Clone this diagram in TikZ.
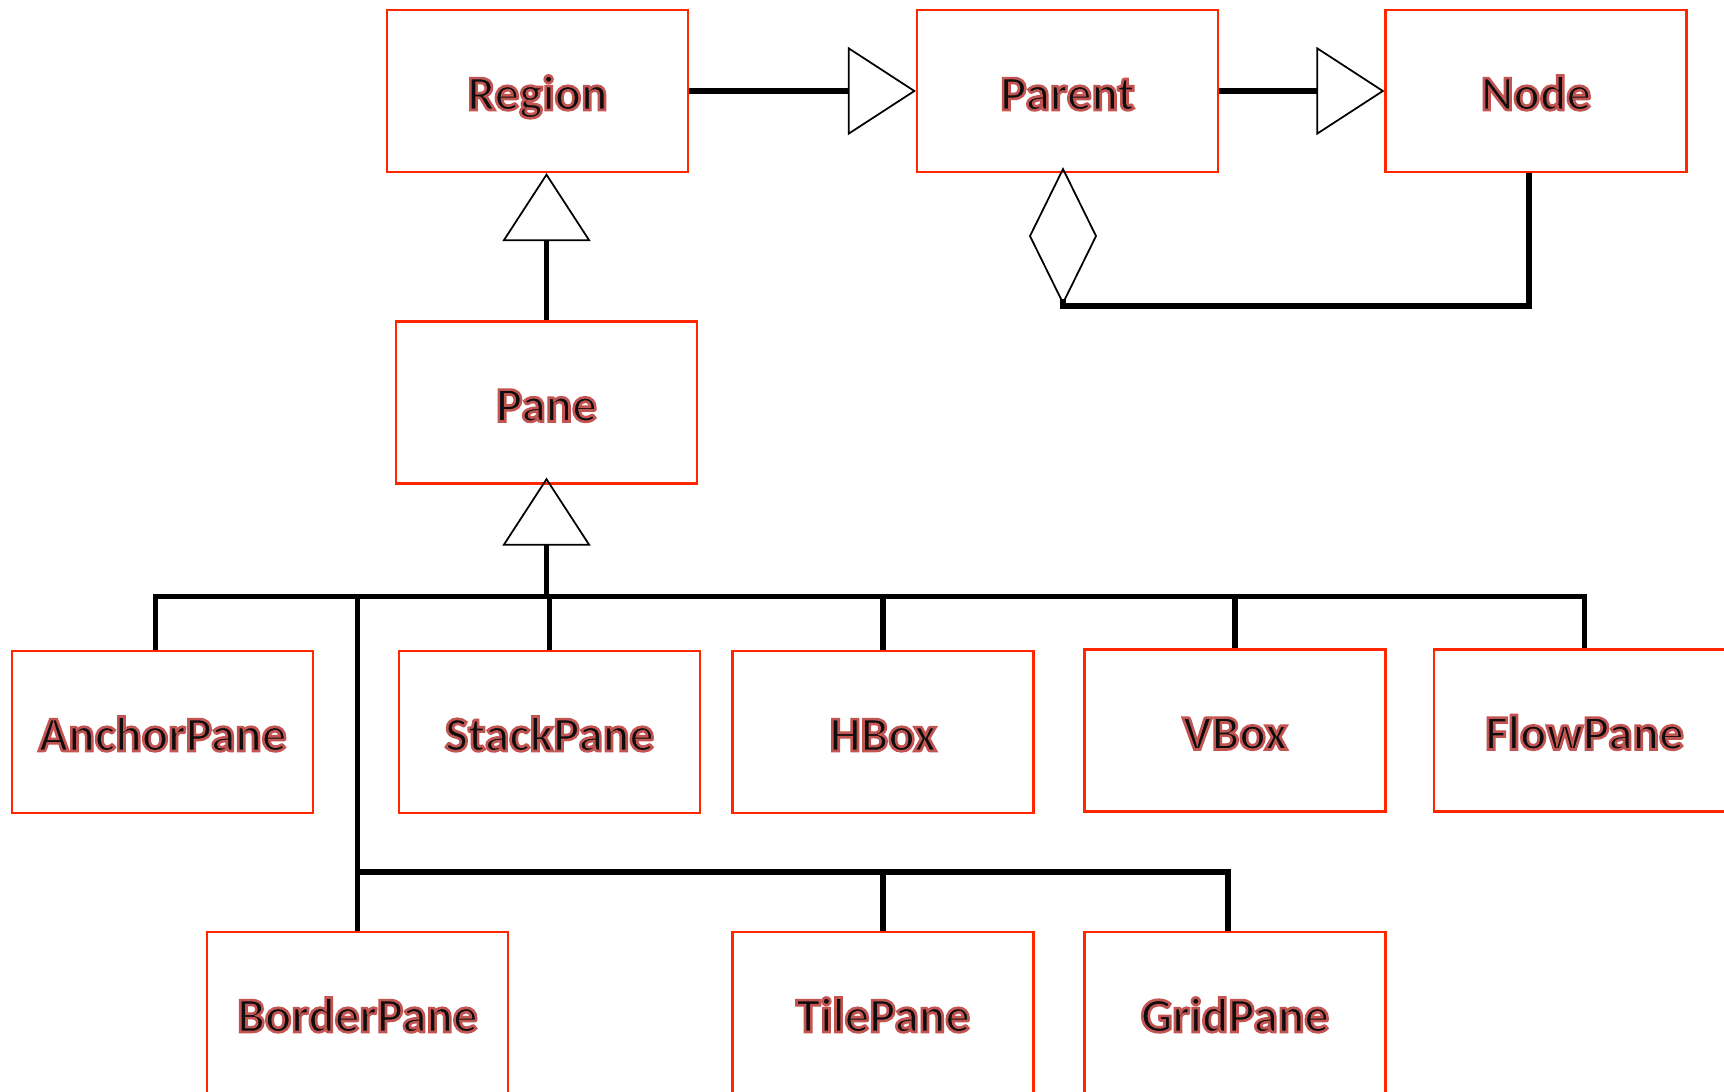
\documentclass[tikz,border=0pt]{standalone}
\usepackage{fontspec}
\setmainfont{Carlito}
\usepackage{xcolor}
\usetikzlibrary{arrows.meta}
\definecolor{boxred}{RGB}{255,38,0}
% outlined class names: black fill, red-brown stroke
\newcommand{\classname}[1]{\bfseries\special{pdf:literal direct 2 Tr 0.75 w 0.76 0.33 0.32 RG 0.05 0.05 0.05 rg}#1\special{pdf:literal direct 0 Tr}}
\begin{document}
\begin{tikzpicture}[font=\fontsize{14}{16}\selectfont,
  classbox/.style={rectangle,draw=boxred,fill=white,line width=0.6pt,minimum width=3.01cm,minimum height=1.62cm,inner sep=0pt,text height=0.5cm,text depth=0.12cm,align=center},
  link/.style={draw=black,line width=1.6pt},
  gen/.style={link,-{Triangle[open,length=0.68cm,width=0.88cm,line width=0.5pt]}},
  agg/.style={link,{Diamond[open,length=1.38cm,width=0.68cm,line width=0.5pt]}-}]
\useasboundingbox (0,0) rectangle (17.24,-10.92);
% top row
\node[classbox] (Region) at (5.375,-0.91) {\classname{Region}};
\node[classbox] (Parent) at (10.675,-0.91) {\classname{Parent}};
\node[classbox] (Node) at (15.36,-0.91) {\classname{Node}};
\node[classbox] (Pane) at (5.465,-4.025) {\classname{Pane}};
% subclasses of Pane
\node[classbox] (AnchorPane) at (1.625,-7.32) {\classname{AnchorPane}};
\node[classbox] (StackPane) at (5.495,-7.32) {\classname{StackPane}};
\node[classbox] (HBox) at (8.83,-7.32) {\classname{HBox}};
\node[classbox] (VBox) at (12.35,-7.305) {\classname{VBox}};
\node[classbox] (FlowPane) at (15.845,-7.305) {\classname{FlowPane}};
\node[classbox] (BorderPane) at (3.575,-10.13) {\classname{BorderPane}};
\node[classbox] (TilePane) at (8.83,-10.13) {\classname{TilePane}};
\node[classbox] (GridPane) at (12.35,-10.13) {\classname{GridPane}};
% inheritance at the top
\draw[gen] (Region) -- (Parent);
\draw[gen] (Parent) -- (Node);
\draw[gen] (Pane.north) -- (Pane.north |- Region.south);
% Parent holds Node children
\draw[agg] ([xshift=-0.045cm,yshift=0.06cm]Parent.south) -- ++(0,-1.39) -| ([xshift=-0.07cm]Node.south);
% bus lines
\path (Pane.south) ++(0,-1.12) coordinate (bus);
\path (BorderPane.north) ++(0,0.59) coordinate (bus2);
\draw[gen] (bus) -- ([yshift=0.07cm]Pane.south);
\draw[link] ([xshift=-0.07cm]AnchorPane.north) |- (FlowPane.north |- bus) -- (FlowPane.north);
\foreach \sub in {StackPane,HBox,VBox,BorderPane}
  \draw[link] (\sub.north) -- (\sub.north |- bus);
\draw[link] (bus2) -| ([xshift=-0.07cm]GridPane.north);
\draw[link] (TilePane.north) -- (TilePane.north |- bus2);
\end{tikzpicture}
\end{document}
